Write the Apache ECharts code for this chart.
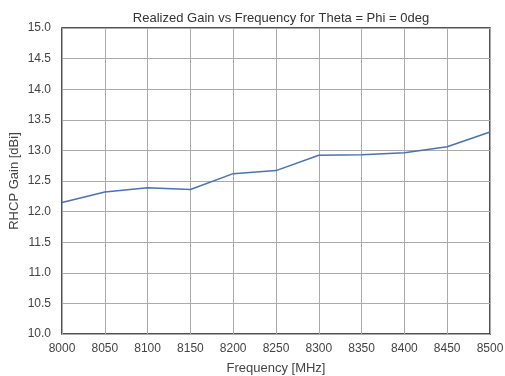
<!DOCTYPE html>
<html><head><meta charset="utf-8">
<script src="https://cdn.jsdelivr.net/npm/echarts@6/dist/echarts.min.js"></script>
<style>html,body{margin:0;padding:0;background:#fff}#c{width:505px;height:376px}</style>
</head><body><div id="c"></div>
<script>
const freqs = [8000, 8050, 8100, 8150, 8200, 8250, 8300, 8350, 8400, 8450, 8500];
const gain = [12.15, 12.32, 12.39, 12.36, 12.62, 12.67, 12.92, 12.93, 12.96, 13.06, 13.30];
const chart = echarts.init(document.getElementById('c'));
const font = 'Liberation Sans, Arial, sans-serif';
chart.setOption({
  animation: false,
  title: {text: 'Realized Gain vs Frequency for Theta = Phi = 0deg', left: 276, top: 7, textAlign: 'center',
    textStyle: {fontSize: 13, fontWeight: 'normal', color: '#333', fontFamily: font}},
  grid: {left: 62, right: 15, top: 28, bottom: 42, show: true, borderColor: '#1a1a1a', borderWidth: 1.5,
    outerBoundsMode: 'none', containLabel: false},
  xAxis: {type: 'value', min: 8000, max: 8500, interval: 50, name: 'Frequency [MHz]', nameLocation: 'middle', nameGap: 28,
    nameTextStyle: {fontSize: 13, color: '#444', fontFamily: font},
    axisLine: {show: false}, axisTick: {show: false},
    axisLabel: {fontSize: 12, color: '#444', fontFamily: font, margin: 9, formatter: v => String(v)},
    splitLine: {lineStyle: {color: '#aaa', width: 1}}},
  yAxis: {type: 'value', min: 10, max: 15, interval: 0.5, name: 'RHCP Gain [dBi]', nameLocation: 'middle', nameGap: 41,
    nameMoveOverlap: false,
    nameTextStyle: {fontSize: 13, color: '#444', fontFamily: font},
    axisLine: {show: false}, axisTick: {show: false},
    axisLabel: {fontSize: 12, color: '#444', fontFamily: font, margin: 11, formatter: v => v.toFixed(1)},
    splitLine: {lineStyle: {color: '#aaa', width: 1}}},
  series: [{type: 'line', data: freqs.map((f, i) => [f, gain[i]]), showSymbol: false,
    lineStyle: {color: '#4a72b8', width: 1.5}}]
});
</script></body></html>
